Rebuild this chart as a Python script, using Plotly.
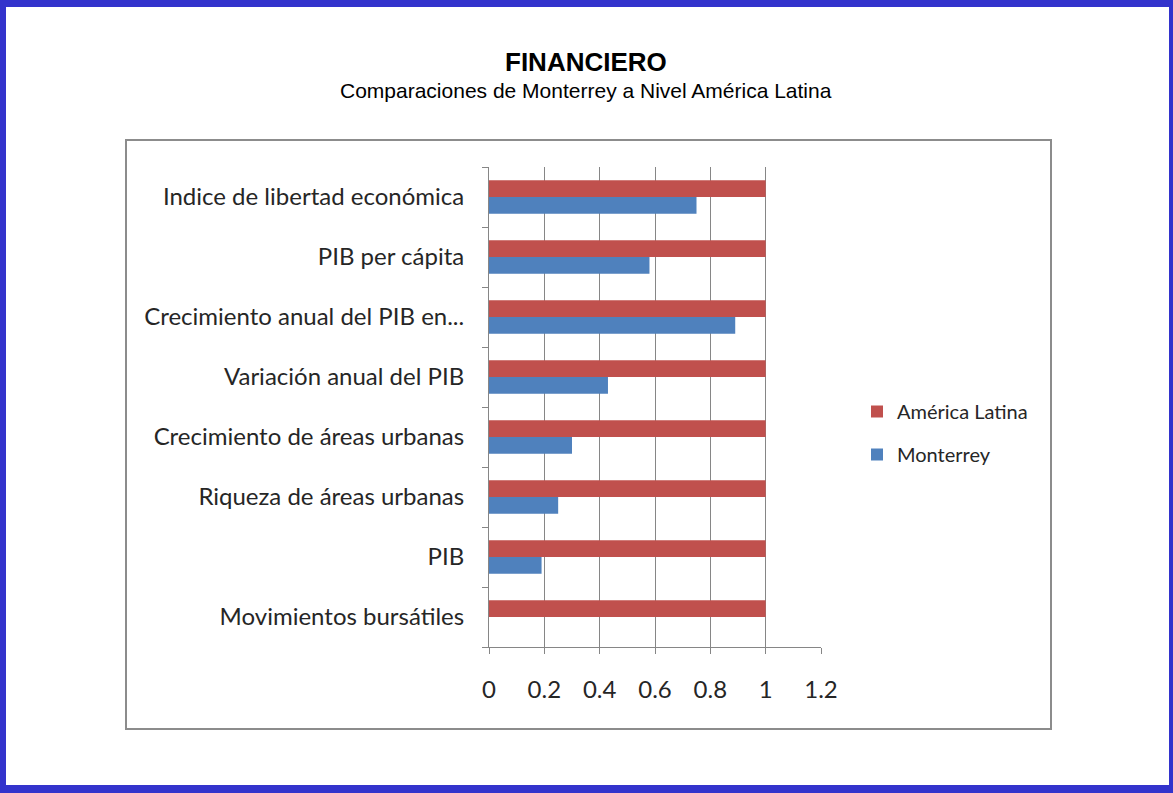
import plotly.graph_objects as go

categories = [
    "Movimientos bursátiles",
    "PIB",
    "Riqueza de áreas urbanas",
    "Crecimiento de áreas urbanas",
    "Variación anual del PIB",
    "Crecimiento anual del PIB en...",
    "PIB per cápita",
    "Indice de libertad económica",
]
monterrey = [0.0, 0.19, 0.25, 0.30, 0.43, 0.89, 0.58, 0.75]
america_latina = [1, 1, 1, 1, 1, 1, 1, 1]
x_ticks = [0, 0.2, 0.4, 0.6, 0.8, 1, 1.2]

W, H = 1173, 793
PL, PR, PT, PB = 489, 821, 167, 647


def px(x):
    return (x - PL) / (PR - PL)


def py(y):
    return (PB - y) / (PB - PT)


fig = go.Figure()
fig.add_trace(go.Bar(y=categories, x=monterrey, orientation="h", name="Monterrey",
                     marker=dict(color="#4F81BD", line=dict(width=0)),
                     legendgroup="m", legendrank=2))
fig.add_trace(go.Bar(y=categories, x=america_latina, orientation="h", name="América Latina",
                     marker=dict(color="#C0504D", line=dict(width=0)),
                     legendgroup="a", legendrank=1))

label_font = dict(family="Lato, Carlito, Calibri, sans-serif", size=24, color="#262626")

fig.update_layout(
    width=W, height=H,
    margin=dict(l=PL, r=W - PR, t=PT, b=H - PB, autoexpand=False),
    paper_bgcolor="#3333CC",
    plot_bgcolor="rgba(0,0,0,0)",
    barmode="group",
    bargap=0.44,
    bargroupgap=0,
    showlegend=True,
    legend=dict(
        x=px(857), y=py(392), xanchor="left", yanchor="top",
        traceorder="grouped", tracegroupgap=14,
        font=dict(family="Lato, Carlito, Calibri, sans-serif", size=20, color="#262626"),
        bgcolor="rgba(0,0,0,0)", borderwidth=0,
    ),
    xaxis=dict(
        range=[0, 1.2], tickvals=x_ticks, ticktext=[str(v) for v in x_ticks],
        showgrid=True, gridcolor="#868686", gridwidth=1,
        showline=True, linecolor="#868686", linewidth=1,
        ticks="outside", ticklen=6, tickcolor="#868686",
        tickfont=label_font, ticklabelstandoff=15, zeroline=False,
        fixedrange=True,
    ),
    yaxis=dict(
        categoryorder="array", categoryarray=categories,
        showline=True, linecolor="#868686", linewidth=1,
        ticks="outside", ticklen=6, tickcolor="#868686", tickson="boundaries",
        tickfont=label_font, ticklabelstandoff=19, showgrid=False,
        fixedrange=True,
    ),
    shapes=[
        dict(type="rect", xref="paper", yref="paper", layer="below",
             x0=px(6), x1=px(1169), y0=py(785), y1=py(7),
             fillcolor="white", line=dict(width=0)),
        dict(type="rect", xref="paper", yref="paper", layer="below",
             x0=px(126), x1=px(1051), y0=py(729), y1=py(140),
             fillcolor="white", line=dict(color="#8C8C8C", width=2)),
    ],
    annotations=[
        dict(text="<b>FINANCIERO</b>", xref="paper", yref="paper",
             x=px(586), y=py(62), xanchor="center", yanchor="middle", showarrow=False,
             font=dict(family="Liberation Sans, Arial, sans-serif", size=26, color="black")),
        dict(text="Comparaciones de Monterrey a Nivel América Latina", xref="paper", yref="paper",
             x=px(586), y=py(90), xanchor="center", yanchor="middle", showarrow=False,
             font=dict(family="Liberation Sans, Arial, sans-serif", size=21, color="black")),
    ],
)

fig.write_html("out.html", config={"displayModeBar": False},
               post_script="document.body.style.margin='0';document.body.style.padding='0';")
